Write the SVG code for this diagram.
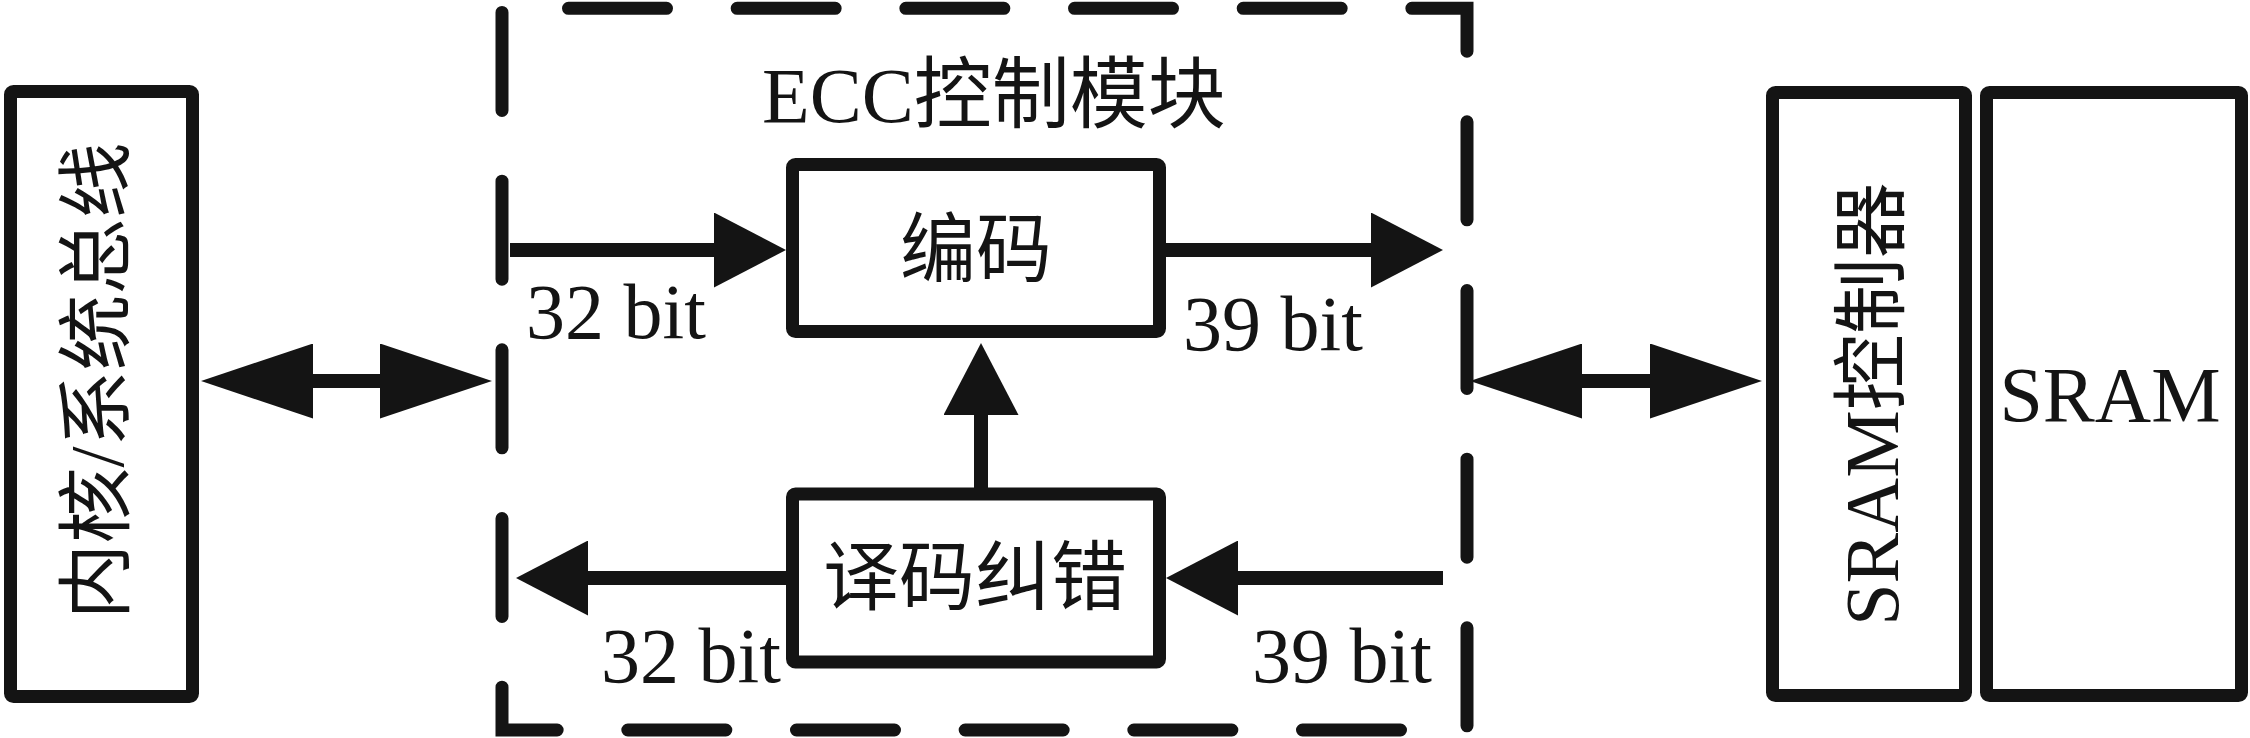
<svg xmlns="http://www.w3.org/2000/svg" width="2250" height="738" viewBox="0 0 2250 738">
  <style>
    .box { fill: #ffffff; stroke: #141414; stroke-width: 13; stroke-linejoin: round; }
    .frame { fill: none; stroke: #141414; stroke-width: 13; stroke-linecap: round; stroke-dasharray: 98 70.67; stroke-dashoffset: -66.5; }
    .wire { fill: none; stroke: #141414; stroke-width: 14; }
    .arrow { marker-end: url(#head); }
    .dbl { marker-start: url(#bighead); marker-end: url(#bighead); }
    .txt { font-family: "Liberation Serif", "Noto Sans CJK SC", serif; fill: #141414; }
    .cjk { font-size: 76px; }
    .lbl { font-size: 78px; }
  </style>
  <defs>
    <marker id="head" viewBox="0 0 72 75" refX="0" refY="37.5" markerWidth="72" markerHeight="75" markerUnits="userSpaceOnUse" orient="auto-start-reverse">
      <path d="M0,0 L72,37.5 L0,75 Z" fill="#141414"/>
    </marker>
    <marker id="bighead" viewBox="0 0 112 75" refX="0" refY="37.5" markerWidth="112" markerHeight="75" markerUnits="userSpaceOnUse" orient="auto-start-reverse">
      <path d="M0,0 L112,37.5 L0,75 Z" fill="#141414"/>
    </marker>
  </defs>
  <rect width="2250" height="738" fill="#ffffff"/>

  <g id="ecc-module">
    <rect class="frame" x="502" y="8.3" width="965" height="721.7"/>
    <text class="txt" x="762" y="122" font-size="78">ECC控制模块</text>
  </g>

  <g id="core-bus">
    <rect class="box" x="10.5" y="91.5" width="182" height="605" rx="3"/>
    <text class="txt cjk" x="0" y="0" text-anchor="middle" dominant-baseline="central" transform="translate(97,381) rotate(-90)">内核/系统总线</text>
  </g>

  <g id="encode">
    <rect class="box" x="792.5" y="164.5" width="367" height="167" rx="3"/>
    <text class="txt cjk" x="976" y="250" text-anchor="middle" dominant-baseline="central">编码</text>
  </g>

  <g id="decode">
    <rect class="box" x="792.5" y="494" width="367" height="168" rx="3"/>
    <text class="txt cjk" x="975" y="578" text-anchor="middle" dominant-baseline="central">译码纠错</text>
  </g>

  <g id="sram-controller">
    <rect class="box" x="1772.5" y="92.5" width="193" height="603" rx="3"/>
    <text class="txt cjk" x="0" y="0" text-anchor="middle" dominant-baseline="central" transform="translate(1872,404) rotate(-90)">SRAM控制器</text>
  </g>

  <g id="sram">
    <rect class="box" x="1986.5" y="92.5" width="255" height="603" rx="3"/>
    <text class="txt lbl" x="2110" y="421" text-anchor="middle">SRAM</text>
  </g>

  <g id="connectors">
    <line class="wire dbl" x1="313" y1="381" x2="380" y2="381"/>
    <line class="wire dbl" x1="1582" y1="381" x2="1650" y2="381"/>
    <line class="wire arrow" x1="510" y1="250" x2="714" y2="250"/>
    <line class="wire arrow" x1="1166" y1="250" x2="1371" y2="250"/>
    <line class="wire arrow" x1="981" y1="488" x2="981" y2="415"/>
    <line class="wire arrow" x1="1443" y1="578" x2="1238" y2="578"/>
    <line class="wire arrow" x1="786" y1="578" x2="588" y2="578"/>
    <text class="txt lbl" x="526" y="338">32 bit</text>
    <text class="txt lbl" x="1183" y="350">39 bit</text>
    <text class="txt lbl" x="601" y="682">32 bit</text>
    <text class="txt lbl" x="1252" y="682">39 bit</text>
  </g>
</svg>
